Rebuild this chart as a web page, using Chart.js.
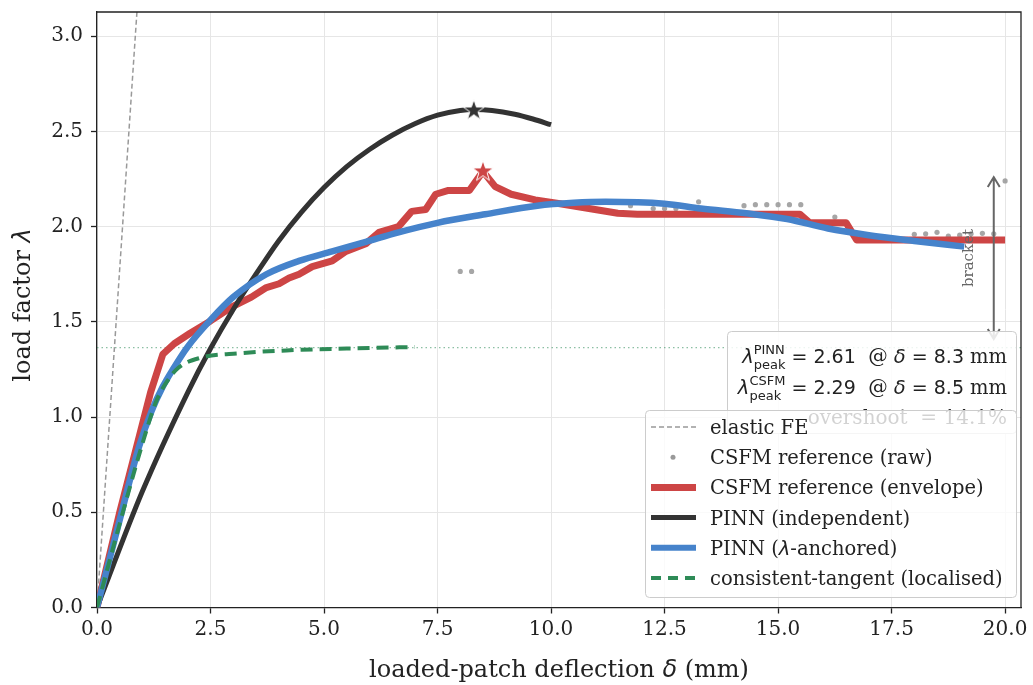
<!DOCTYPE html>
<html>
<head>
<meta charset="utf-8">
<script src="https://cdn.jsdelivr.net/npm/chart.js@4.4.1/dist/chart.umd.min.js"></script>
<style>
  html, body { margin: 0; padding: 0; background: #fff; }
  #wrap { width: 1033px; height: 685px; }
</style>
</head>
<body>
<div id="wrap"><canvas id="chart" width="1033" height="685"></canvas></div>
<script>
// data
const xTicks = [0, 2.5, 5, 7.5, 10, 12.5, 15, 17.5, 20]
const yTicks = [0, 0.5, 1, 1.5, 2, 2.5, 3]

const elasticX = [0, 0.9]
const elasticY = [0, 3.2]

const rawX = [8.0, 8.25, 11.75, 12.25, 12.5, 12.75, 13.25, 14.25, 14.5, 14.75, 15.0, 15.25, 15.5, 16.25, 18.0, 18.25, 18.5, 18.75, 19.0, 19.25, 19.5, 19.75, 20.0]
const rawY = [1.765, 1.765, 2.11, 2.095, 2.095, 2.095, 2.13, 2.11, 2.115, 2.115, 2.115, 2.115, 2.115, 2.05, 1.96, 1.962, 1.97, 1.95, 1.955, 1.962, 1.965, 1.962, 2.24]

const envX = [0, 0.5, 0.9, 1.18, 1.45, 1.7, 2.05, 2.5, 2.98, 3.4, 3.73, 4.01, 4.23, 4.45, 4.74, 5.18, 5.48, 5.92, 6.21, 6.64, 6.93, 7.24, 7.46, 7.74, 8.2, 8.5, 8.77, 9.12, 9.65, 10.2, 11.47, 11.9, 15.48, 15.7, 16.5, 16.73, 20.0]
const envY = [0, 0.5, 0.87, 1.13, 1.33, 1.385, 1.44, 1.505, 1.58, 1.63, 1.68, 1.70, 1.73, 1.75, 1.79, 1.82, 1.87, 1.91, 1.97, 2.0, 2.08, 2.09, 2.17, 2.19, 2.19, 2.29, 2.21, 2.17, 2.14, 2.12, 2.07, 2.065, 2.065, 2.02, 2.02, 1.93, 1.93]

const pinnX = [0, 1.0, 2.0, 2.5, 3.0, 3.5, 4.0, 4.5, 5.0, 5.5, 6.0, 6.5, 7.0, 7.5, 8.0, 8.3, 8.7, 9.2, 9.6, 10.0]
const pinnY = [0, 0.61, 1.13, 1.36, 1.565, 1.75, 1.925, 2.075, 2.205, 2.315, 2.405, 2.48, 2.54, 2.585, 2.61, 2.615, 2.61, 2.59, 2.565, 2.535]

const anchX = [0, 0.5, 0.92, 1.2, 1.45, 1.67, 2.0, 2.5, 3.0, 3.73, 4.45, 5.18, 5.92, 6.64, 7.5, 8.55, 9.7, 10.5, 11.2, 12.5, 13.3, 14.3, 15.2, 16.1, 17.0, 18.0, 19.1]
const anchY = [0, 0.46, 0.84, 1.03, 1.16, 1.25, 1.37, 1.51, 1.63, 1.75, 1.82, 1.87, 1.92, 1.97, 2.02, 2.065, 2.11, 2.125, 2.13, 2.12, 2.095, 2.07, 2.04, 1.99, 1.955, 1.925, 1.895]

const ctX = [0, 0.5, 1.0, 1.3, 1.55, 1.8, 2.26, 3.14, 4.17, 5.5, 7.0]
const ctY = [0, 0.44, 0.86, 1.08, 1.19, 1.26, 1.31, 1.335, 1.35, 1.36, 1.368]

const plateau = 1.365
const peakPinn = [8.3, 2.61]
const peakCsfm = [8.5, 2.29]
const bracketX = 19.75
const bracketY = [1.41, 2.26]

const xMax = 20.35
const yMax = 3.127

function pts(xs, ys) {
    return xs.map(function (x, i) { return { x: x, y: ys[i] } })
}

function makeStar(fill) {
    const c = document.createElement('canvas')
    c.width = 26
    c.height = 26
    const g = c.getContext('2d')
    g.beginPath()
    for (let i = 0; i < 10; i++) {
        const r = i % 2 ? 4.3 : 11
        const a = -Math.PI / 2 + i * Math.PI / 5
        g.lineTo(13 + r * Math.cos(a), 13 + r * Math.sin(a))
    }
    g.closePath()
    g.fillStyle = fill
    g.fill()
    g.strokeStyle = '#fff'
    g.lineWidth = 1
    g.stroke()
    return c
}

const RED = '#cd4545'
const BLACK = '#333333'
const BLUE = '#4683cb'
const GREEN = '#2e8b57'
const GRAY = '#999999'

const SERIF = '"DejaVu Serif", serif'
const SANS = '"DejaVu Sans", sans-serif'

// rows of text runs (mixed fonts, sub/superscripts)
function runsWidth(ctx, runs) {
    let w = 0
    runs.forEach(function (r) {
        ctx.font = r.font
        if (r.sup) {
            w += Math.max(ctx.measureText(r.sup).width, ctx.measureText(r.sub).width)
        } else {
            w += ctx.measureText(r.t).width
        }
    })
    return w
}
function drawRuns(ctx, runs, x, y, align) {
    let cx = align === 'right' ? x - runsWidth(ctx, runs) : align === 'center' ? x - runsWidth(ctx, runs) / 2 : x
    ctx.textAlign = 'left'
    ctx.textBaseline = 'alphabetic'
    runs.forEach(function (r) {
        ctx.font = r.font
        if (r.sup) {
            ctx.fillText(r.sup, cx, y - 9)
            ctx.fillText(r.sub, cx, y + 6)
            cx += Math.max(ctx.measureText(r.sup).width, ctx.measureText(r.sub).width)
        } else {
            ctx.fillText(r.t, cx, y)
            cx += ctx.measureText(r.t).width
        }
    })
}

function roundBox(ctx, x, y, w, h, r) {
    ctx.beginPath()
    ctx.moveTo(x + r, y)
    ctx.arcTo(x + w, y, x + w, y + h, r)
    ctx.arcTo(x + w, y + h, x, y + h, r)
    ctx.arcTo(x, y + h, x, y, r)
    ctx.arcTo(x, y, x + w, y, r)
    ctx.closePath()
}

const extras = {
    id: 'extras',
    afterDatasetsDraw(chart) {
        const ctx = chart.ctx
        const xs = chart.scales.x
        const ys = chart.scales.y
        const a = chart.chartArea
        ctx.save()

        // top / right spines
        ctx.strokeStyle = '#222'
        ctx.lineWidth = 1.3
        ctx.beginPath()
        ctx.moveTo(a.left, a.top)
        ctx.lineTo(a.right, a.top)
        ctx.lineTo(a.right, a.bottom)
        ctx.stroke()

        // bracket arrow
        const bx = xs.getPixelForValue(bracketX)
        const b0 = ys.getPixelForValue(bracketY[0])
        const b1 = ys.getPixelForValue(bracketY[1])
        ctx.strokeStyle = '#666'
        ctx.lineWidth = 2
        ctx.beginPath()
        ctx.moveTo(bx, b0)
        ctx.lineTo(bx, b1)
        ctx.moveTo(bx - 6, b1 + 10)
        ctx.lineTo(bx, b1)
        ctx.lineTo(bx + 6, b1 + 10)
        ctx.moveTo(bx - 6, b0 - 10)
        ctx.lineTo(bx, b0)
        ctx.lineTo(bx + 6, b0 - 10)
        ctx.stroke()
        ctx.save()
        ctx.translate(bx - 25, (b0 + b1) / 2)
        ctx.rotate(-Math.PI / 2)
        ctx.fillStyle = '#666'
        ctx.font = '15px ' + SERIF
        ctx.textAlign = 'center'
        ctx.textBaseline = 'middle'
        ctx.fillText('bracket', 0, 0)
        ctx.restore()

        // peak annotation box
        ctx.fillStyle = 'rgba(255,255,255,0.85)'
        ctx.strokeStyle = '#cccccc'
        ctx.lineWidth = 1
        roundBox(ctx, 727.5, 331.5, 289, 102, 4)
        ctx.fill()
        ctx.stroke()
        ctx.fillStyle = '#222'
        const big = '19px ' + SANS
        const it = 'italic 19.5px ' + SANS
        const sm = '13px ' + SANS
        const ser = '19.5px ' + SERIF
        drawRuns(ctx, [
            { t: 'λ', font: it }, { sup: 'PINN', sub: 'peak', font: sm },
            { t: ' = 2.61', font: big }, { t: '  @ ', font: ser },
            { t: 'δ', font: it }, { t: ' = 8.3 ', font: big }, { t: 'mm', font: ser }
        ], 1007, 363, 'right')
        drawRuns(ctx, [
            { t: 'λ', font: it }, { sup: 'CSFM', sub: 'peak', font: sm },
            { t: ' = 2.29', font: big }, { t: '  @ ', font: ser },
            { t: 'δ', font: it }, { t: ' = 8.5 ', font: big }, { t: 'mm', font: ser }
        ], 1007, 394, 'right')
        drawRuns(ctx, [{ t: 'overshoot  = 14.1%', font: '20px ' + SERIF }], 1007, 424, 'right')

        // legend
        ctx.fillStyle = 'rgba(255,255,255,0.8)'
        ctx.strokeStyle = '#cccccc'
        roundBox(ctx, 645.5, 410.5, 371, 187, 4)
        ctx.fill()
        ctx.stroke()
        const rows = [
            { label: 'elastic FE', color: GRAY, w: 1.5, dash: [5, 3] },
            { label: 'CSFM reference (raw)', dot: true },
            { label: 'CSFM reference (envelope)', color: RED, w: 7 },
            { label: 'PINN (independent)', color: BLACK, w: 5 },
            { label: 'PINN (λ-anchored)', color: BLUE, w: 6, lam: true },
            { label: 'consistent-tangent (localised)', color: GREEN, w: 4, dash: [10, 7] }
        ]
        const lf = '19.5px ' + SERIF
        rows.forEach(function (r, i) {
            const y = 427 + i * 30.2
            if (r.dot) {
                ctx.fillStyle = GRAY
                ctx.beginPath()
                ctx.arc(673, y, 2.5, 0, Math.PI * 2)
                ctx.fill()
            } else {
                ctx.strokeStyle = r.color
                ctx.lineWidth = r.w
                ctx.setLineDash(r.dash || [])
                ctx.beginPath()
                ctx.moveTo(651, y)
                ctx.lineTo(696, y)
                ctx.stroke()
                ctx.setLineDash([])
            }
            ctx.fillStyle = '#222'
            if (r.lam) {
                drawRuns(ctx, [
                    { t: 'PINN (', font: lf }, { t: 'λ', font: 'italic 19.5px ' + SANS },
                    { t: '-anchored)', font: lf }
                ], 710, y + 7, 'left')
            } else {
                ctx.font = lf
                ctx.textAlign = 'left'
                ctx.textBaseline = 'alphabetic'
                ctx.fillText(r.label, 710, y + 7)
            }
        })

        // axis titles
        ctx.fillStyle = '#222'
        drawRuns(ctx, [
            { t: 'loaded-patch deflection ', font: '24px ' + SERIF },
            { t: 'δ', font: 'italic 24px ' + SANS },
            { t: ' (mm)', font: '24px ' + SERIF }
        ], (a.left + a.right) / 2, 677, 'center')
        ctx.save()
        ctx.translate(30, 305)
        ctx.rotate(-Math.PI / 2)
        drawRuns(ctx, [
            { t: 'load factor ', font: '24px ' + SERIF },
            { t: 'λ', font: 'italic 24px ' + SANS }
        ], 0, 0, 'center')
        ctx.restore()

        ctx.restore()
    }
}

new Chart(document.getElementById('chart'), {
    type: 'scatter',
    data: {
        datasets: [
            {
                label: 'elastic FE',
                data: pts(elasticX, elasticY),
                showLine: true,
                borderColor: GRAY,
                borderWidth: 1.5,
                borderDash: [5, 3],
                pointRadius: 0,
                order: 10
            },
            {
                label: 'plateau',
                data: pts([0, xMax], [plateau, plateau]),
                showLine: true,
                borderColor: 'rgba(46,139,87,0.55)',
                borderWidth: 1.3,
                borderDash: [1.5, 3],
                pointRadius: 0,
                order: 11
            },
            {
                label: 'CSFM reference (raw)',
                data: pts(rawX, rawY),
                backgroundColor: 'rgba(150,150,150,0.85)',
                borderWidth: 0,
                pointRadius: 2.6,
                order: 9
            },
            {
                label: 'CSFM reference (envelope)',
                data: pts(envX, envY),
                showLine: true,
                borderColor: RED,
                borderWidth: 7,
                borderJoinStyle: 'round',
                pointRadius: 0,
                order: 8
            },
            {
                label: 'PINN (independent)',
                data: pts(pinnX, pinnY),
                showLine: true,
                borderColor: BLACK,
                borderWidth: 5,
                cubicInterpolationMode: 'monotone',
                pointRadius: 0,
                order: 7
            },
            {
                label: 'PINN (λ-anchored)',
                data: pts(anchX, anchY),
                showLine: true,
                borderColor: BLUE,
                borderWidth: 6.5,
                cubicInterpolationMode: 'monotone',
                pointRadius: 0,
                order: 6
            },
            {
                label: 'consistent-tangent (localised)',
                data: pts(ctX, ctY),
                showLine: true,
                borderColor: GREEN,
                borderWidth: 4,
                borderDash: [12, 7],
                cubicInterpolationMode: 'monotone',
                pointRadius: 0,
                order: 5
            },
            {
                label: 'peaks',
                data: [{ x: peakPinn[0], y: peakPinn[1] }, { x: peakCsfm[0], y: peakCsfm[1] }],
                pointStyle: [makeStar(BLACK), makeStar(RED)],
                pointRadius: 11,
                order: 1
            }
        ]
    },
    options: {
        responsive: false,
        animation: false,
        events: [],
        layout: { padding: { top: 9, right: 6, left: 0, bottom: 0 } },
        plugins: { legend: { display: false }, tooltip: { enabled: false } },
        scales: {
            x: {
                type: 'linear',
                min: 0,
                max: xMax,
                afterBuildTicks: function (axis) { axis.ticks = xTicks.map(function (v) { return { value: v } }) },
                afterFit: function (axis) {
                    axis.height = 77.5
                    axis.paddingLeft = 0
                    axis.paddingRight = 0
                },
                grid: { color: '#e6e6e6', lineWidth: 1, tickColor: '#222', tickLength: 6, tickWidth: 1.3 },
                border: { color: '#222', width: 1.3 },
                ticks: {
                    padding: 4,
                    color: '#222',
                    font: { family: 'DejaVu Serif', size: 20 },
                    maxRotation: 0,
                    callback: function (v) { return v.toFixed(1) }
                }
            },
            y: {
                type: 'linear',
                min: 0,
                max: yMax,
                afterBuildTicks: function (axis) { axis.ticks = yTicks.map(function (v) { return { value: v } }) },
                afterFit: function (axis) {
                    axis.width = 97
                    axis.paddingTop = 0
                    axis.paddingBottom = 0
                },
                grid: { color: '#e6e6e6', lineWidth: 1, tickColor: '#222', tickLength: 6, tickWidth: 1.3 },
                border: { color: '#222', width: 1.3 },
                ticks: {
                    padding: 8,
                    color: '#222',
                    font: { family: 'DejaVu Serif', size: 20 },
                    callback: function (v) { return v.toFixed(1) }
                }
            }
        }
    },
    plugins: [extras]
});
</script>
</body>
</html>
